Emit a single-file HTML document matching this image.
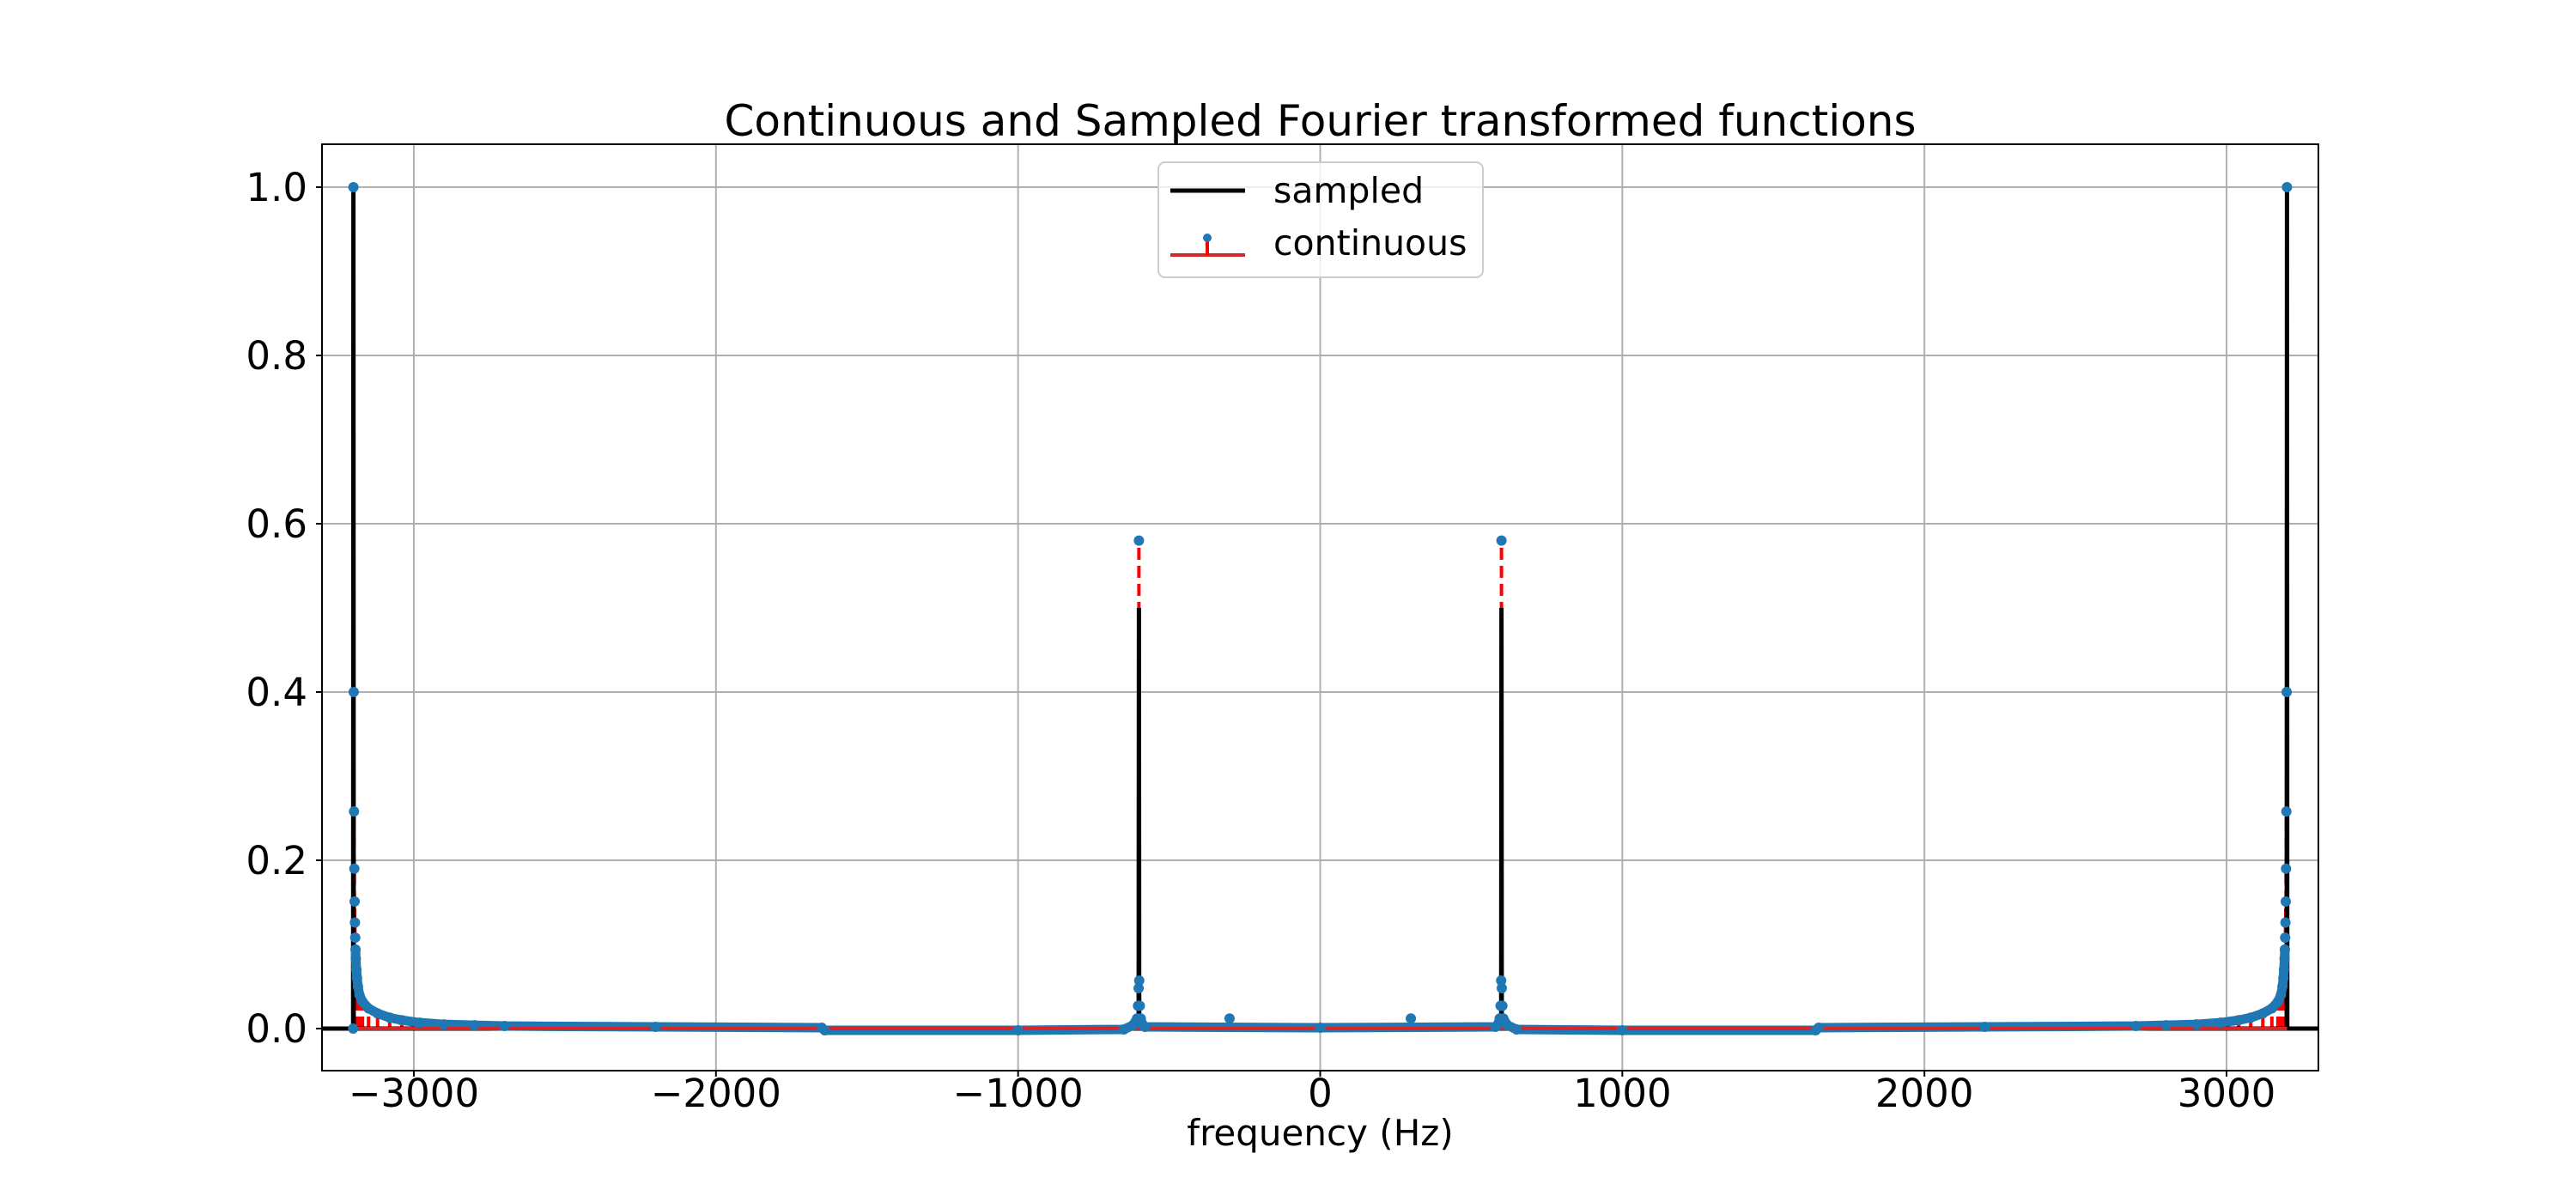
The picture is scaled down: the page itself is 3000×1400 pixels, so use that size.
<!DOCTYPE html>
<html><head><meta charset="utf-8"><style>
html,body{margin:0;padding:0;background:#fff;}
svg{display:block;font-family:"DejaVu Sans","Liberation Sans",sans-serif;}
</style></head><body>
<svg id="chart" width="3000" height="1400" viewBox="0 0 3000 1400" xmlns="http://www.w3.org/2000/svg">
<rect width="3000" height="1400" fill="#fff"/>
<text x="1537.5" y="158" font-size="50" text-anchor="middle">Continuous and Sampled Fourier transformed functions</text>
<g id="grid"></g>
<g id="series"></g>
<rect x="375" y="168" width="2325" height="1079" fill="none" stroke="#000" stroke-width="2"/>
<g id="ticks"></g>
<text x="1537.5" y="1334" font-size="42" text-anchor="middle">frequency (Hz)</text>
<g>
<rect x="1349" y="189" width="378" height="134" rx="8" fill="#fff" fill-opacity="0.8" stroke="#cccccc" stroke-width="2"/>
<line x1="1363" y1="222" x2="1450" y2="222" stroke="#000" stroke-width="5"/>
<text x="1483" y="236" font-size="41">sampled</text>
<line x1="1363" y1="297" x2="1450" y2="297" stroke="#d62728" stroke-width="4"/>
<line x1="1406" y1="297" x2="1406" y2="277" stroke="#ff0000" stroke-width="4"/>
<circle cx="1406" cy="277" r="5" fill="#1f77b4"/>
<text x="1483" y="297" font-size="41">continuous</text>
</g>
</svg>
<script>
const xTicks = [-3000, -2000, -1000, 0, 1000, 2000, 3000];
const xTickLabels = ["\u22123000", "\u22122000", "\u22121000", "0", "1000", "2000", "3000"];
const yTicks = [0, 0.2, 0.4, 0.6, 0.8, 1.0];
const yTickLabels = ["0.0", "0.2", "0.4", "0.6", "0.8", "1.0"];
const sampledFreq = [-3304, -3201, -3200, -3199, -601, -600, -599, -301, -300, -299, 299, 300, 301, 599, 600, 601, 3199, 3200, 3201, 3304];
const sampledVal = [0, 0, 1.0, 0, 0, 0.5, 0, 0, 0.012, 0, 0, 0.012, 0, 0, 0.5, 0, 0, 1.0, 0, 0];
const contFreq = [-3201, -3200, -3199, -3198, -3197, -3196, -3195, -3194, -3193, -3192, -3190, -3188, -3185, -3180, -3170, -3150, -3120, -3080, -3040, -2980, -2900, -2800, -2700, -2200, -1650, -1640, -1000, -650, -620, -606, -603, -601, -600, -599, -597, -594, -590, -580, -300, 0, 300, 580, 590, 594, 597, 599, 600, 601, 603, 606, 620, 650, 1000, 1640, 1650, 2200, 2700, 2800, 2900, 2980, 3040, 3080, 3120, 3150, 3170, 3180, 3185, 3188, 3190, 3192, 3193, 3194, 3195, 3196, 3197, 3198, 3199, 3200];
const contVal = [0, 1.0, 0.4, 0.258, 0.19, 0.151, 0.126, 0.108, 0.094, 0.083, 0.07, 0.06, 0.05, 0.04, 0.032, 0.024, 0.018, 0.013, 0.01, 0.007, 0.005, 0.004, 0.003, 0.002, 0.001, -0.002, -0.002, -0.001, 0.004, 0.012, 0.027, 0.048, 0.58, 0.057, 0.027, 0.012, 0.006, 0.002, 0.012, 0.001, 0.012, 0.002, 0.006, 0.012, 0.027, 0.057, 0.58, 0.048, 0.027, 0.012, 0.004, -0.001, -0.002, -0.002, 0.001, 0.002, 0.003, 0.004, 0.005, 0.007, 0.01, 0.013, 0.018, 0.024, 0.032, 0.04, 0.05, 0.06, 0.07, 0.083, 0.094, 0.108, 0.126, 0.151, 0.19, 0.258, 0.4, 1.0];

const NS = "http://www.w3.org/2000/svg";
const L = 375, R = 2700, T = 168, B = 1247;
const xMin = -3304, xMax = 3304, yMin = -0.05, yMax = 1.051;
function xs(v) { return L + (v - xMin) / (xMax - xMin) * (R - L); }
function ys(v) { return B - (v - yMin) / (yMax - yMin) * (B - T); }
function mk(tag, attrs, parent) {
  const e = document.createElementNS(NS, tag);
  for (const k in attrs) e.setAttribute(k, attrs[k]);
  parent.appendChild(e);
  return e;
}
const grid = document.getElementById('grid');
const ticks = document.getElementById('ticks');
const series = document.getElementById('series');

xTicks.forEach((t, i) => {
  const x = xs(t);
  const g = mk('line', {x1: x, x2: x, y1: T, y2: B, stroke: '#b0b0b0', 'stroke-width': 2}, grid);
  
  
  const tk = mk('line', {x1: x, x2: x, y1: B, y2: B + 7, stroke: '#000', 'stroke-width': 2}, ticks);
  
  
  const tx = mk('text', {x: x, y: 1289, 'font-size': 45, 'text-anchor': 'middle'}, ticks);
  tx.textContent = xTickLabels[i];
  
  
});
yTicks.forEach((t, i) => {
  const y = ys(t);
  const g = mk('line', {x1: L, x2: R, y1: y, y2: y, stroke: '#b0b0b0', 'stroke-width': 2}, grid);
  
  
  const tk = mk('line', {x1: L - 7, x2: L, y1: y, y2: y, stroke: '#000', 'stroke-width': 2}, ticks);
  
  
  const tx = mk('text', {x: 358, y: y + 16, 'font-size': 45, 'text-anchor': 'end'}, ticks);
  tx.textContent = yTickLabels[i];
  
  
});

contFreq.forEach((f, i) => {
  const s = mk('line', {x1: xs(f), x2: xs(f), y1: ys(0), y2: ys(contVal[i]), stroke: '#ff0000', 'stroke-width': 4, 'stroke-dasharray': '14,7'}, series);
  
  
});
const sp = mk('polyline', {points: sampledFreq.map((f, i) => xs(f) + ',' + ys(sampledVal[i])).join(' '), fill: 'none', stroke: '#000', 'stroke-width': 5}, series);


const bl = mk('line', {x1: xs(contFreq[0]), x2: xs(contFreq[contFreq.length - 1]), y1: ys(0), y2: ys(0), stroke: '#d62728', 'stroke-width': 4}, series);


const lowPts = [];
contFreq.forEach((f, i) => {
  const v = contVal[i];
  if (i === 0) return;
  if (Math.abs(Math.abs(f) - 300) < 2) return;
  if (v < 0.1 && (Math.abs(f) > 3000 || v < 0.015)) lowPts.push(xs(f) + ',' + ys(v));
});
const band = mk('polyline', {points: lowPts.join(' '), fill: 'none', stroke: '#1f77b4', 'stroke-width': 11, 'stroke-linejoin': 'round', 'stroke-linecap': 'round'}, series);


const bl2 = mk('line', {x1: xs(contFreq[0]), x2: xs(contFreq[contFreq.length - 1]), y1: ys(0), y2: ys(0), stroke: '#d62728', 'stroke-width': 4}, series);


contFreq.forEach((f, i) => {
  const c = mk('circle', {cx: xs(f), cy: ys(contVal[i]), r: 6, fill: '#1f77b4'}, series);
  
  
});
</script>
</body></html>
